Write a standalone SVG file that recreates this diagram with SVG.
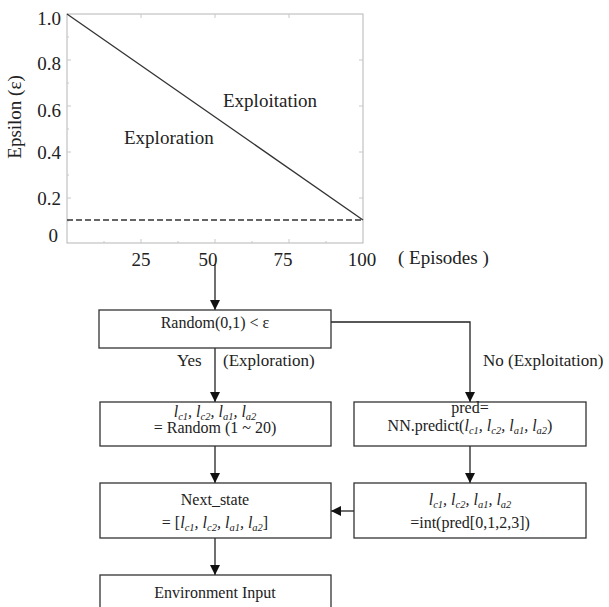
<svg xmlns="http://www.w3.org/2000/svg" width="609" height="607" viewBox="0 0 609 607">
<defs>
<marker id="ah" markerWidth="10" markerHeight="10" refX="10" refY="5" orient="auto" markerUnits="userSpaceOnUse">
<path d="M0,0 L10,5 L0,10 Z" fill="#111"/>
</marker>
<style>
.t{font-family:"Liberation Serif","Times New Roman",serif;fill:#222}
.ax{font-size:19px}
.bx{font-size:16px}
.lb{font-size:17px}
.i{font-style:italic}
.s{font-size:10.5px;font-style:italic}
.box{fill:#fff;stroke:#333;stroke-width:1.3}
.cn{fill:none;stroke:#222;stroke-width:1.3}
.tk{stroke:#c8c8c8;stroke-width:1}
</style>
</defs>
<rect width="609" height="607" fill="#fff"/>

<g id="plot">
<rect x="67" y="14" width="296" height="229" fill="none" stroke="#b5b5b5" stroke-width="1"/>
<g class="tk">
<path d="M67,60 h4 M67,106 h4 M67,152 h4 M67,198 h4 M67,37 h2 M67,83 h2 M67,129 h2 M67,175 h2 M67,221 h2"/>
<path d="M363,60 h-4 M363,106 h-4 M363,152 h-4 M363,198 h-4"/>
<path d="M141,243 v-4 M215,243 v-4 M289,243 v-4 M104,243 v-2 M178,243 v-2 M252,243 v-2 M326,243 v-2"/>
<path d="M141,14 v4 M215,14 v4 M289,14 v4"/>
</g>
<line x1="67" y1="14" x2="363" y2="220" stroke="#333" stroke-width="1.3"/>
<line x1="67" y1="220" x2="363" y2="220" stroke="#333" stroke-width="1.3" stroke-dasharray="6 3"/>
<g class="t ax" text-anchor="end">
<text x="61" y="25">1.0</text>
<text x="61" y="70">0.8</text>
<text x="61" y="117">0.6</text>
<text x="61" y="159">0.4</text>
<text x="61" y="205">0.2</text>
<text x="58" y="242">0</text>
</g>
<g class="t ax" text-anchor="middle">
<text x="141" y="266">25</text>
<text x="208" y="266">50</text>
<text x="283" y="266">75</text>
<text x="362" y="266">100</text>
</g>
<text class="t ax" x="398" y="264">( Episodes )</text>
<text class="t ax" x="223" y="107">Exploitation</text>
<text class="t ax" x="124" y="144">Exploration</text>
<text class="t ax" text-anchor="middle" transform="translate(21,117) rotate(-90)">Epsilon (ε)</text>
</g>

<g id="connectors">
<line class="cn" x1="215" y1="264" x2="215" y2="310" marker-end="url(#ah)"/>
<line class="cn" x1="215" y1="348" x2="215" y2="402" marker-end="url(#ah)"/>
<polyline class="cn" points="331,322 470,322 470,402" marker-end="url(#ah)"/>
<line class="cn" x1="215" y1="446" x2="215" y2="483" marker-end="url(#ah)"/>
<line class="cn" x1="470" y1="446" x2="470" y2="483" marker-end="url(#ah)"/>
<line class="cn" x1="354" y1="511" x2="331" y2="511" marker-end="url(#ah)"/>
<line class="cn" x1="215" y1="538" x2="215" y2="575" marker-end="url(#ah)"/>
<text class="t lb" x="177" y="366">Yes</text>
<text class="t lb" x="223" y="366">(Exploration)</text>
<text class="t lb" x="483" y="366">No (Exploitation)</text>
</g>

<g id="decision">
<rect class="box" x="99" y="310" width="232" height="38"/>
<text class="t bx" x="215" y="328" text-anchor="middle">Random(0,1) &lt; ε</text>
</g>

<g id="random-action">
<rect class="box" x="100" y="402" width="231" height="44"/>
<text class="t bx" x="215" y="417" text-anchor="middle"><tspan class="i">l</tspan><tspan class="s" dy="3">c1</tspan><tspan class="i" dy="-3">, l</tspan><tspan class="s" dy="3">c2</tspan><tspan class="i" dy="-3">, l</tspan><tspan class="s" dy="3">a1</tspan><tspan class="i" dy="-3">, l</tspan><tspan class="s" dy="3">a2</tspan></text>
<text class="t bx" x="215" y="433" text-anchor="middle">= Random (1 ~ 20)</text>
</g>

<g id="nn-predict">
<rect class="box" x="354" y="402" width="232" height="44"/>
<text class="t bx" x="470" y="413" text-anchor="middle">pred=</text>
<text class="t bx" x="470" y="431" text-anchor="middle">NN.predict(<tspan class="i">l</tspan><tspan class="s" dy="3">c1</tspan><tspan class="i" dy="-3">, l</tspan><tspan class="s" dy="3">c2</tspan><tspan class="i" dy="-3">, l</tspan><tspan class="s" dy="3">a1</tspan><tspan class="i" dy="-3">, l</tspan><tspan class="s" dy="3">a2</tspan><tspan dy="-3">)</tspan></text>
</g>

<g id="next-state">
<rect class="box" x="100" y="483" width="231" height="55"/>
<text class="t bx" x="215" y="505" text-anchor="middle">Next_state</text>
<text class="t bx" x="215" y="528" text-anchor="middle">= [<tspan class="i">l</tspan><tspan class="s" dy="3">c1</tspan><tspan class="i" dy="-3">, l</tspan><tspan class="s" dy="3">c2</tspan><tspan class="i" dy="-3">, l</tspan><tspan class="s" dy="3">a1</tspan><tspan class="i" dy="-3">, l</tspan><tspan class="s" dy="3">a2</tspan><tspan dy="-3">]</tspan></text>
</g>

<g id="int-pred">
<rect class="box" x="354" y="483" width="232" height="55"/>
<text class="t bx" x="470" y="505" text-anchor="middle"><tspan class="i">l</tspan><tspan class="s" dy="3">c1</tspan><tspan class="i" dy="-3">, l</tspan><tspan class="s" dy="3">c2</tspan><tspan class="i" dy="-3">, l</tspan><tspan class="s" dy="3">a1</tspan><tspan class="i" dy="-3">, l</tspan><tspan class="s" dy="3">a2</tspan></text>
<text class="t bx" x="470" y="528" text-anchor="middle">=int(pred[0,1,2,3])</text>
</g>

<g id="environment">
<rect class="box" x="100" y="575" width="231" height="45"/>
<text class="t bx" x="215" y="598" text-anchor="middle">Environment Input</text>
</g>
</svg>
